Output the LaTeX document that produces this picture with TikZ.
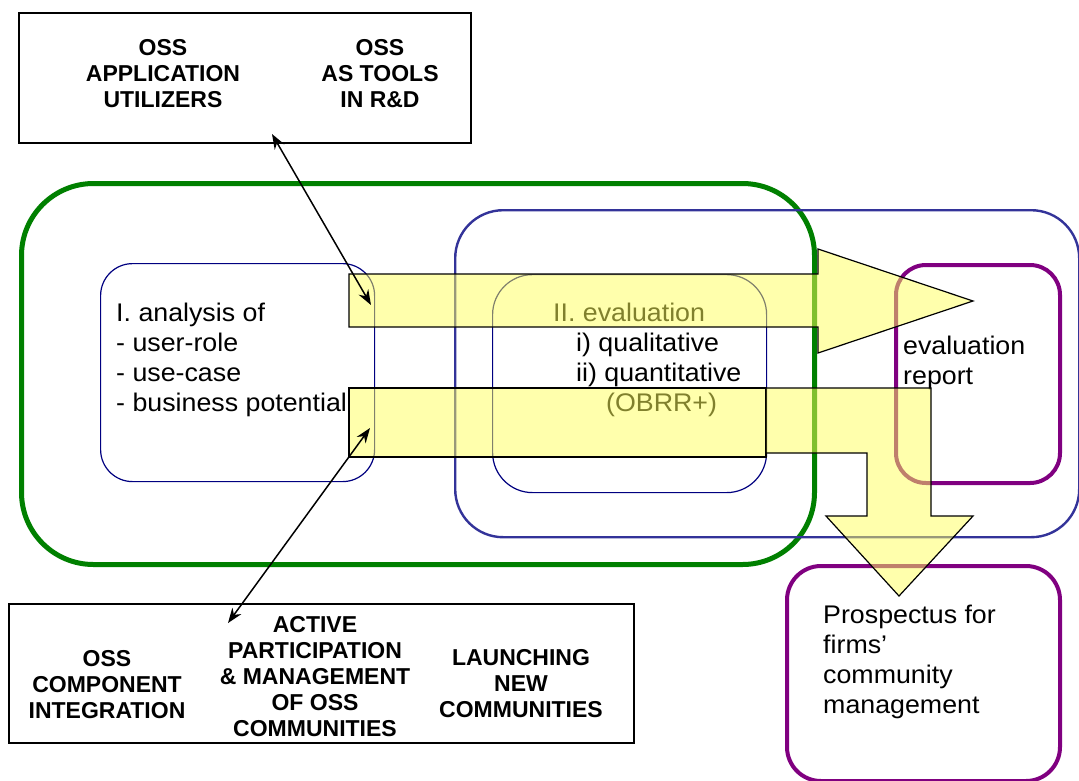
\documentclass[tikz,border=0pt]{standalone}
\usepackage{fontspec}
\setmainfont{Liberation Sans}
\newfontfamily\regfont[FakeStretch=1.05]{Liberation Sans}
\usetikzlibrary{arrows.meta}

\definecolor{frgreen}{RGB}{0,128,0}
\definecolor{frblue}{RGB}{51,51,153}
\definecolor{thinblue}{RGB}{0,0,128}
\definecolor{frpurple}{RGB}{128,0,128}
\definecolor{flowyellow}{RGB}{255,255,90}

\tikzset{
  plainbox/.style={draw=black, line width=1.5pt, inner sep=0pt, anchor=north west},
  greenframe/.style={draw=frgreen, line width=5pt, rounded corners=72pt, inner sep=0pt, anchor=north west},
  blueframe/.style={draw=frblue, line width=2.4pt, rounded corners=48pt, inner sep=0pt, anchor=north west},
  thinframe/.style={draw=thinblue, line width=1.2pt, rounded corners=32pt, inner sep=0pt, anchor=north west},
  purpleframe/.style={draw=frpurple, line width=4pt, rounded corners=30pt, inner sep=0pt, anchor=north west},
  % multi-line labels are placed by the baseline of their last line
  boldtxt/.style={font=\bfseries\fontsize{23}{26}\selectfont, align=center, inner sep=0pt, anchor=base},
  regtxt/.style={font=\regfont\fontsize{25.5}{30}\selectfont, align=left, inner sep=0pt, anchor=base west},
  flow/.style={draw=black, line width=1.2pt, line join=miter, fill=flowyellow, fill opacity=0.5, draw opacity=1},
  link/.style={draw=black, line width=1.5pt, {Stealth[length=15pt,width=11pt]}-{Stealth[length=15pt,width=11pt]}}
}

\begin{document}
\begin{tikzpicture}[x=1pt,y=-1pt]
\useasboundingbox (0,0) rectangle (1079,780);
\fill[white] (0,0) rectangle (1079,780);

% outer boxes holding the OSS activities
\node[plainbox, minimum width=452pt, minimum height=130pt] (topbox) at (18,12) {};
\node[plainbox, minimum width=625pt, minimum height=139pt] (botbox) at (8,603) {};

% rounded frames
\node[greenframe, minimum width=793pt, minimum height=381pt] (green) at (19,181) {};
\node[blueframe, minimum width=624pt, minimum height=327pt] (bigblue) at (454,209) {};
\node[thinframe, minimum width=274pt, minimum height=218pt] (analysisbox) at (100,263) {};
\node[thinframe, minimum width=274pt, minimum height=218pt, rounded corners=40pt] (evalbox) at (492,274) {};
\node[purpleframe, minimum width=164pt, minimum height=218pt] (reportbox) at (894,263) {};
\node[purpleframe, minimum width=273pt, minimum height=215pt, rounded corners=34pt] (prospbox) at (785,564) {};

% box labels
\node[boldtxt] (utilizers) at (163,107.5) {OSS\\APPLICATION\\UTILIZERS};
\node[boldtxt] (tools) at (380,107.5) {OSS\\AS TOOLS\\IN R\&D};
\node[boldtxt] (component) at (107,718.5) {OSS\\COMPONENT\\INTEGRATION};
\node[boldtxt] (active) at (315,736) {ACTIVE\\PARTICIPATION\\\& MANAGEMENT\\OF OSS\\COMMUNITIES};
\node[boldtxt] (launch) at (521,717) {LAUNCHING\\NEW\\COMMUNITIES};

% phase texts
\node[regtxt] (analysis) at (116,411) {I. analysis of\\- user-role\\- use-case\\- business potential};
\node[regtxt] (evaluation) at (553,321) {II. evaluation};
\node[regtxt] (qual) at (576,351) {i) qualitative};
\node[regtxt] (quant) at (576,381) {ii) quantitative};
\node[regtxt] (obrr) at (606,411) {(OBRR+)};
\node[regtxt] (report) at (903,384) {evaluation\\report};
\node[regtxt] (prospectus) at (823,713) {Prospectus for\\firms’\\community\\management};

% translucent flow arrows
\draw[flow] (349,274) -- (818,274) -- (818,249) -- (973,301) -- (818,353)
  -- (818,327) -- (349,327) -- cycle;
\draw[flow] (349,388) rectangle (766,457);
\draw[flow] (766,388) -- (931,388) -- (931,516) -- (973,516) -- (899,596)
  -- (826,516) -- (867,516) -- (867,453) -- (766,453) -- cycle;

% links between the activity boxes and the analysis phase
\coordinate (upA) at (272,134);
\coordinate (upB) at (371,305);
\coordinate (lowA) at (370,428);
\coordinate (lowB) at (228,623);
\draw[link] (upA) -- (upB);
\draw[link] (lowA) -- (lowB);
\end{tikzpicture}
\end{document}
